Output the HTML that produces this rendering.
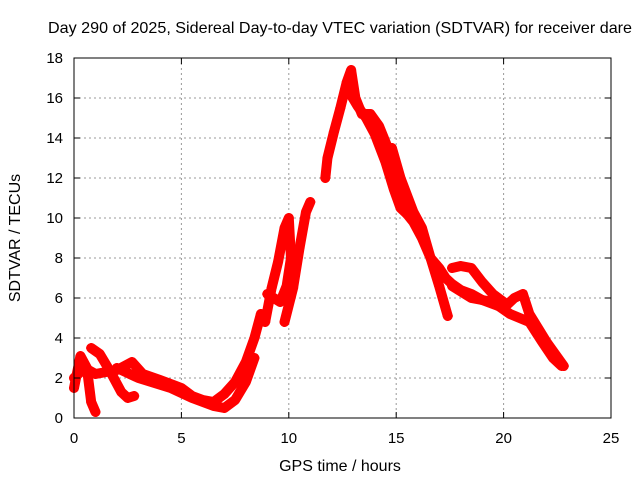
<!DOCTYPE html>
<html><head><meta charset="utf-8"><style>
body{margin:0;background:#fff;}
svg{display:block;font-family:"Liberation Sans",sans-serif;font-size:15px;}
</style></head><body>
<svg id="chart" width="640" height="480">
<text x="340" y="33" text-anchor="middle" font-size="16" textLength="584" lengthAdjust="spacingAndGlyphs">Day 290 of 2025, Sidereal Day-to-day VTEC variation (SDTVAR) for receiver dare</text>
<text x="340" y="471" text-anchor="middle" font-size="16">GPS time / hours</text>
<text transform="translate(20,238) rotate(-90)" text-anchor="middle" font-size="16">SDTVAR / TECUs</text>
<g id="grid"></g><g id="marks"></g>
<rect x="74" y="58" width="537" height="360" fill="none" stroke="#000" stroke-width="1"/>
<g id="ticks"></g>
</svg>
<script>
const xTicks=[0,5,10,15,20,25];
const yTicks=[0,2,4,6,8,10,12,14,16,18];
const trackA_t=[0,0.5,1,2,2.7,3.2,4,5,5.5,6,6.5,7,7.5,8,8.4,8.7];
const trackA_v=[2.0,2.5,2.2,2.4,2.8,2.2,1.9,1.5,1.1,0.9,0.8,1.2,1.8,2.8,4.0,5.2];
const trackB_t=[0.8,1.2,1.7,2.2,2.5,2.8];
const trackB_v=[3.5,3.2,2.3,1.3,1.0,1.1];
const trackC_t=[0,0.3,0.6,0.8,1.0];
const trackC_v=[1.5,3.1,2.5,0.8,0.3];
const trackD_t=[2,3,4.5,5.5,6.5,7,7.5,8,8.4];
const trackD_v=[2.5,2.0,1.5,1.0,0.6,0.5,0.9,1.8,3.0];
const trackE_t=[8.9,9.2,9.5,9.8,10,10.1,9.9,9.6,9.0];
const trackE_v=[4.8,6.5,7.8,9.5,10,8,6.6,5.8,6.2];
const trackF_t=[9.8,10.2,10.5,10.8,11];
const trackF_v=[4.8,6.5,8.5,10.3,10.8];
const trackG_t=[11.7,11.8,12.1,12.4,12.7,12.9,13.1,13.4,13.8,14.2,14.5,14.8,15,15.2,15.5,15.8,16.2,16.6,17,17.3,17.6,18,18.5,19,19.5,20,20.5,20.9,21.2,21.6,22,22.4,22.8];
const trackG_v=[12,13,14.3,15.5,16.8,17.4,16,15.2,15.2,14.6,13.8,13,12,11.2,10.2,9.8,9.0,8.0,7.5,7,6.7,6.4,6.2,5.9,5.7,5.5,6.0,6.2,5.2,4.5,3.8,3.2,2.6];
const trackH_t=[12.7,13.2,13.6,14,14.5,14.9,15.2,15.5];
const trackH_v=[16.5,15.6,15,14.2,12.8,11.4,10.5,10.2];
const trackI_t=[14.8,15.2,15.8,16.2,16.6,17,17.4];
const trackI_v=[13.5,12,10.3,9.5,8,6.6,5.1];
const trackJ_t=[17.6,18,18.5,19,19.5,20];
const trackJ_v=[7.5,7.6,7.5,6.8,6.2,5.8];
const trackK_t=[17.6,18.5,19.5,20.3,21.2,21.8,22.3,22.7];
const trackK_v=[6.6,6.0,5.8,5.2,4.8,3.8,3.0,2.6];
const tracks=[[trackA_t,trackA_v],[trackB_t,trackB_v],[trackC_t,trackC_v],[trackD_t,trackD_v],[trackE_t,trackE_v],[trackF_t,trackF_v],[trackG_t,trackG_v],[trackH_t,trackH_v],[trackI_t,trackI_v],[trackJ_t,trackJ_v],[trackK_t,trackK_v]];
const NS="http://www.w3.org/2000/svg";
const X=t=>74+t*537/25, Y=v=>418-v*20;
const grid=document.getElementById('grid'),marks=document.getElementById('marks'),ticks=document.getElementById('ticks');
function mk(tag,attrs,parent){const e=document.createElementNS(NS,tag);for(const k in attrs)e.setAttribute(k,attrs[k]);parent.appendChild(e);return e;}
xTicks.forEach(t=>{
 if(t>0&&t<25){const g=mk('line',{x1:X(t),x2:X(t),y1:58,y2:418,stroke:'#999','stroke-dasharray':'2,3'},grid);
 
 }
 mk('line',{x1:X(t),x2:X(t),y1:418,y2:412,stroke:'#000'},ticks);
 mk('line',{x1:X(t),x2:X(t),y1:58,y2:64,stroke:'#000'},ticks);
 const l=mk('text',{x:X(t),y:443,'text-anchor':'middle'},ticks);l.textContent=t;
 
 
});
yTicks.forEach(v=>{
 if(v>0&&v<18){const g=mk('line',{x1:74,x2:611,y1:Y(v),y2:Y(v),stroke:'#999','stroke-dasharray':'2,3'},grid);
 
 }
 mk('line',{x1:74,x2:80,y1:Y(v),y2:Y(v),stroke:'#000'},ticks);
 mk('line',{x1:611,x2:605,y1:Y(v),y2:Y(v),stroke:'#000'},ticks);
 const l=mk('text',{x:63,y:Y(v)+5,'text-anchor':'end'},ticks);l.textContent=v;
 
 
});
tracks.forEach(([ts,vs])=>{
 const pts=ts.map((t,i)=>X(t)+','+Y(vs[i])).join(' ');
 const p=mk('polyline',{points:pts,fill:'none',stroke:'#f00','stroke-width':10,'stroke-linejoin':'round','stroke-linecap':'round'},marks);
 
 
 ts.forEach((t,i)=>{const x=X(t),y=Y(vs[i]);
  const m=mk('path',{d:`M${x-5},${y}H${x+5}M${x},${y-5}V${y+5}`,stroke:'#f00','stroke-width':1.5},marks);
  
  });
});
</script>
</body></html>
